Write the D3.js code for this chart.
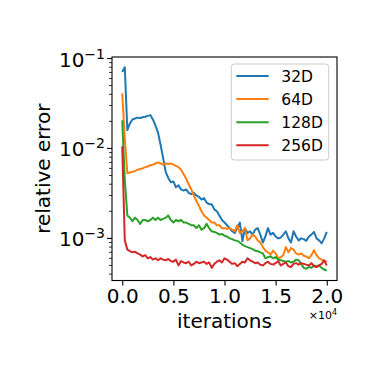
<!DOCTYPE html>
<html>
<head>
<meta charset="utf-8">
<script src="https://cdn.jsdelivr.net/npm/d3@7"></script>
<style>
  body { margin: 0; background: #fff; }
  svg { display: block; font-family: "DejaVu Sans", sans-serif; }
</style>
</head>
<body>
<svg id="chart" width="374" height="374"></svg>
<script>
// iterations grid (every 250 steps, 0 .. 20000)
var iterStep = 250;
var iterations = d3.range(0, 20001, iterStep);

var seriesNames = ["32D", "64D", "128D", "256D"];
var seriesColors = ["#1f77b4", "#ff7f0e", "#2ca02c", "#d62728"];

var err32 = [0.071, 0.080, 0.016, 0.019, 0.021, 0.0215, 0.022, 0.0218, 0.0222, 0.0225,
  0.023, 0.0235, 0.021, 0.018, 0.015, 0.011, 0.0078, 0.0055, 0.0047, 0.0042,
  0.0043, 0.0037, 0.0039, 0.0035, 0.0034, 0.0035, 0.0032, 0.0031, 0.0032, 0.0030,
  0.0029, 0.0027, 0.0028, 0.0025, 0.0024, 0.0024, 0.0021, 0.0020, 0.0018, 0.0016,
  0.0015, 0.0014, 0.0013, 0.0012, 0.00115, 0.0013, 0.0015, 0.00093, 0.0013, 0.00115,
  0.0012, 0.0011, 0.00125, 0.0013, 0.0011, 0.0009, 0.00105, 0.0013, 0.0011, 0.00115,
  0.00105, 0.0010, 0.00102, 0.0011, 0.0012, 0.0010, 0.0009, 0.0012, 0.00105, 0.00095,
  0.0010, 0.00098, 0.00094, 0.00105, 0.0011, 0.00118, 0.0010, 0.00095, 0.00088, 0.0010,
  0.00118];

var err64 = [0.041, 0.013, 0.0053, 0.0054, 0.0055, 0.0056, 0.0058, 0.0059, 0.0060, 0.0062,
  0.0063, 0.0065, 0.0066, 0.0068, 0.0070, 0.0068, 0.0066, 0.0068, 0.0067, 0.0068,
  0.0066, 0.0064, 0.0062, 0.0058, 0.0052, 0.0046, 0.0040, 0.0035, 0.0030, 0.0026,
  0.0023, 0.0020, 0.0018, 0.0017, 0.0016, 0.0015, 0.0015, 0.0014, 0.0014, 0.0013,
  0.0013, 0.00128, 0.0013, 0.00125, 0.0012, 0.0014, 0.00115, 0.0012, 0.0013, 0.00095,
  0.0010, 0.0011, 0.00105, 0.00095, 0.0009, 0.0008, 0.00073, 0.0007, 0.00066, 0.00073,
  0.00068, 0.0006, 0.00062, 0.00065, 0.0008, 0.0007, 0.00078, 0.00075, 0.00068, 0.00066,
  0.00068, 0.00064, 0.00063, 0.0006, 0.00065, 0.00074, 0.00065, 0.0006, 0.00058, 0.00056,
  0.00055];

var err128 = [0.0205, 0.0045, 0.0018, 0.0017, 0.00155, 0.0017, 0.0016, 0.00145, 0.0016, 0.0016,
  0.00155, 0.0016, 0.0017, 0.0016, 0.0017, 0.0016, 0.00165, 0.0017, 0.0018, 0.0016,
  0.0015, 0.0016, 0.00155, 0.0016, 0.0015, 0.0015, 0.00145, 0.0014, 0.0014, 0.0013,
  0.0014, 0.00125, 0.0013, 0.00145, 0.0013, 0.0012, 0.00118, 0.00115, 0.0011, 0.00112,
  0.00107, 0.00105, 0.0010, 0.00098, 0.00095, 0.00094, 0.0009, 0.00085, 0.00082, 0.0008,
  0.00078, 0.00076, 0.00073, 0.00072, 0.0007, 0.00068, 0.0006, 0.00062, 0.00063, 0.0006,
  0.00062, 0.00058, 0.00057, 0.00056, 0.00055, 0.00056, 0.00054, 0.00055, 0.00058, 0.00057,
  0.00052, 0.00047, 0.00046, 0.00048, 0.00047, 0.0005, 0.00049, 0.0005, 0.00047, 0.00045,
  0.00044];

var err256 = [0.0106, 0.00095, 0.00075, 0.00072, 0.0007, 0.00071, 0.00068, 0.00066, 0.00063, 0.00065,
  0.0006, 0.00062, 0.00058, 0.0006, 0.00057, 0.0006, 0.00058, 0.00057, 0.00059, 0.00056,
  0.00055, 0.00058, 0.0005, 0.00056, 0.00054, 0.00053, 0.00055, 0.0005, 0.00052, 0.00055,
  0.00053, 0.00054, 0.00055, 0.00052, 0.00054, 0.00047, 0.00052, 0.00055, 0.00057, 0.00054,
  0.0006, 0.00058, 0.00055, 0.00052, 0.00053, 0.00049, 0.00052, 0.00055, 0.00054, 0.0006,
  0.00057, 0.00055, 0.00053, 0.00054, 0.00051, 0.0005, 0.00053, 0.00055, 0.00052, 0.00051,
  0.00053, 0.00056, 0.0005, 0.00052, 0.00054, 0.00049, 0.00048, 0.00052, 0.00053, 0.00051,
  0.00053, 0.00052, 0.00051, 0.0005, 0.00053, 0.00049, 0.00048, 0.0005, 0.00052, 0.00057,
  0.0005];

var xTicks = [0, 5000, 10000, 15000, 20000];
var xTickLabels = ["0.0", "0.5", "1.0", "1.5", "2.0"];
var yTicks = [1e-1, 1e-2, 1e-3];
var yTickExps = ["\u22121", "\u22122", "\u22123"];

var allSeries = [err32, err64, err128, err256];

var svg = d3.select("#chart");
var margin = {left: 112, top: 57, right: 37, bottom: 93.5};
var W = 374 - margin.left - margin.right,
    H = 374 - margin.top - margin.bottom;

var x = d3.scaleLinear().domain([-1000, 21000]).range([0, W]);
var y = d3.scaleLog().domain([3.4e-4, 0.104]).range([H, 0]);

var g = svg.append("g").attr("transform", "translate(" + margin.left + "," + margin.top + ")");

// lines
var line = d3.line()
    .x(function(d, i) { return x(iterations[i]); })
    .y(function(d) { return y(d); });

g.selectAll("path.series")
  .data(allSeries)
  .enter().append("path")
  .attr("class", "series")
  .attr("d", line)
  .attr("fill", "none")
  .attr("stroke", function(d, i) { return seriesColors[i]; })
  .attr("stroke-width", 2)
  .attr("stroke-linejoin", "round");

// x axis
var xAxis = g.append("g")
  .attr("transform", "translate(0," + H + ")")
  .call(d3.axisBottom(x).tickValues(xTicks).tickSize(5).tickPadding(3)
        .tickFormat(function(d, i) { return xTickLabels[i]; }));
xAxis.select(".domain").remove();
xAxis.selectAll("line").attr("stroke", "#000").attr("stroke-width", 1.1);
xAxis.selectAll("text").attr("font-size", 20).attr("fill", "#000")
  .attr("font-family", "DejaVu Sans");

// y axis (major + minor log ticks)
var minor = [];
[1e-4, 1e-3, 1e-2].forEach(function(dec) {
  for (var k = 2; k <= 9; k++) {
    var v = dec * k;
    if (v >= y.domain()[0] && v <= y.domain()[1]) minor.push(v);
  }
});
g.selectAll("line.minor").data(minor).enter().append("line")
  .attr("x1", -3).attr("x2", 0)
  .attr("y1", function(d) { return y(d); }).attr("y2", function(d) { return y(d); })
  .attr("stroke", "#000").attr("stroke-width", 0.8);
g.selectAll("line.major").data(yTicks).enter().append("line")
  .attr("x1", -5).attr("x2", 0)
  .attr("y1", function(d) { return y(d); }).attr("y2", function(d) { return y(d); })
  .attr("stroke", "#000").attr("stroke-width", 1.1);
var ylab = g.selectAll("text.ytick").data(yTicks).enter().append("text")
  .attr("class", "ytick")
  .attr("x", -7)
  .attr("y", function(d) { return y(d) + 8; })
  .attr("text-anchor", "end")
  .attr("font-size", 20);
ylab.append("tspan").text("10");
ylab.append("tspan").attr("dy", -8).attr("font-size", 14)
  .text(function(d, i) { return yTickExps[i]; });

// frame
g.append("rect").attr("width", W).attr("height", H)
  .attr("fill", "none").attr("stroke", "#000").attr("stroke-width", 1.1);

// axis labels
g.append("text").attr("x", W / 2).attr("y", H + 47)
  .attr("text-anchor", "middle").attr("font-size", 20).text("iterations");
var off = g.append("text").attr("x", W).attr("y", H + 38)
  .attr("text-anchor", "end").attr("font-size", 11);
off.append("tspan").text("\u00d710");
off.append("tspan").attr("dy", -4).attr("font-size", 8).text("4");

svg.append("text")
  .attr("transform", "translate(50," + (margin.top + H / 2) + ") rotate(-90)")
  .attr("text-anchor", "middle").attr("font-size", 20).text("relative error");

// legend
var lg = svg.append("g").attr("transform", "translate(231.3,64)");
lg.append("rect").attr("width", 97.4).attr("height", 96).attr("rx", 3)
  .attr("fill", "#fff").attr("fill-opacity", 0.8)
  .attr("stroke", "#ccc").attr("stroke-width", 1);
var items = lg.selectAll("g.item").data(seriesNames).enter().append("g")
  .attr("transform", function(d, i) { return "translate(0," + (12 + i * 23.1) + ")"; });
items.append("line").attr("x1", 5).attr("x2", 37.4)
  .attr("stroke", function(d, i) { return seriesColors[i]; }).attr("stroke-width", 2);
items.append("text").attr("x", 50).attr("y", 5.6).attr("font-size", 15.5)
  .text(function(d) { return d; });
</script>
</body>
</html>
